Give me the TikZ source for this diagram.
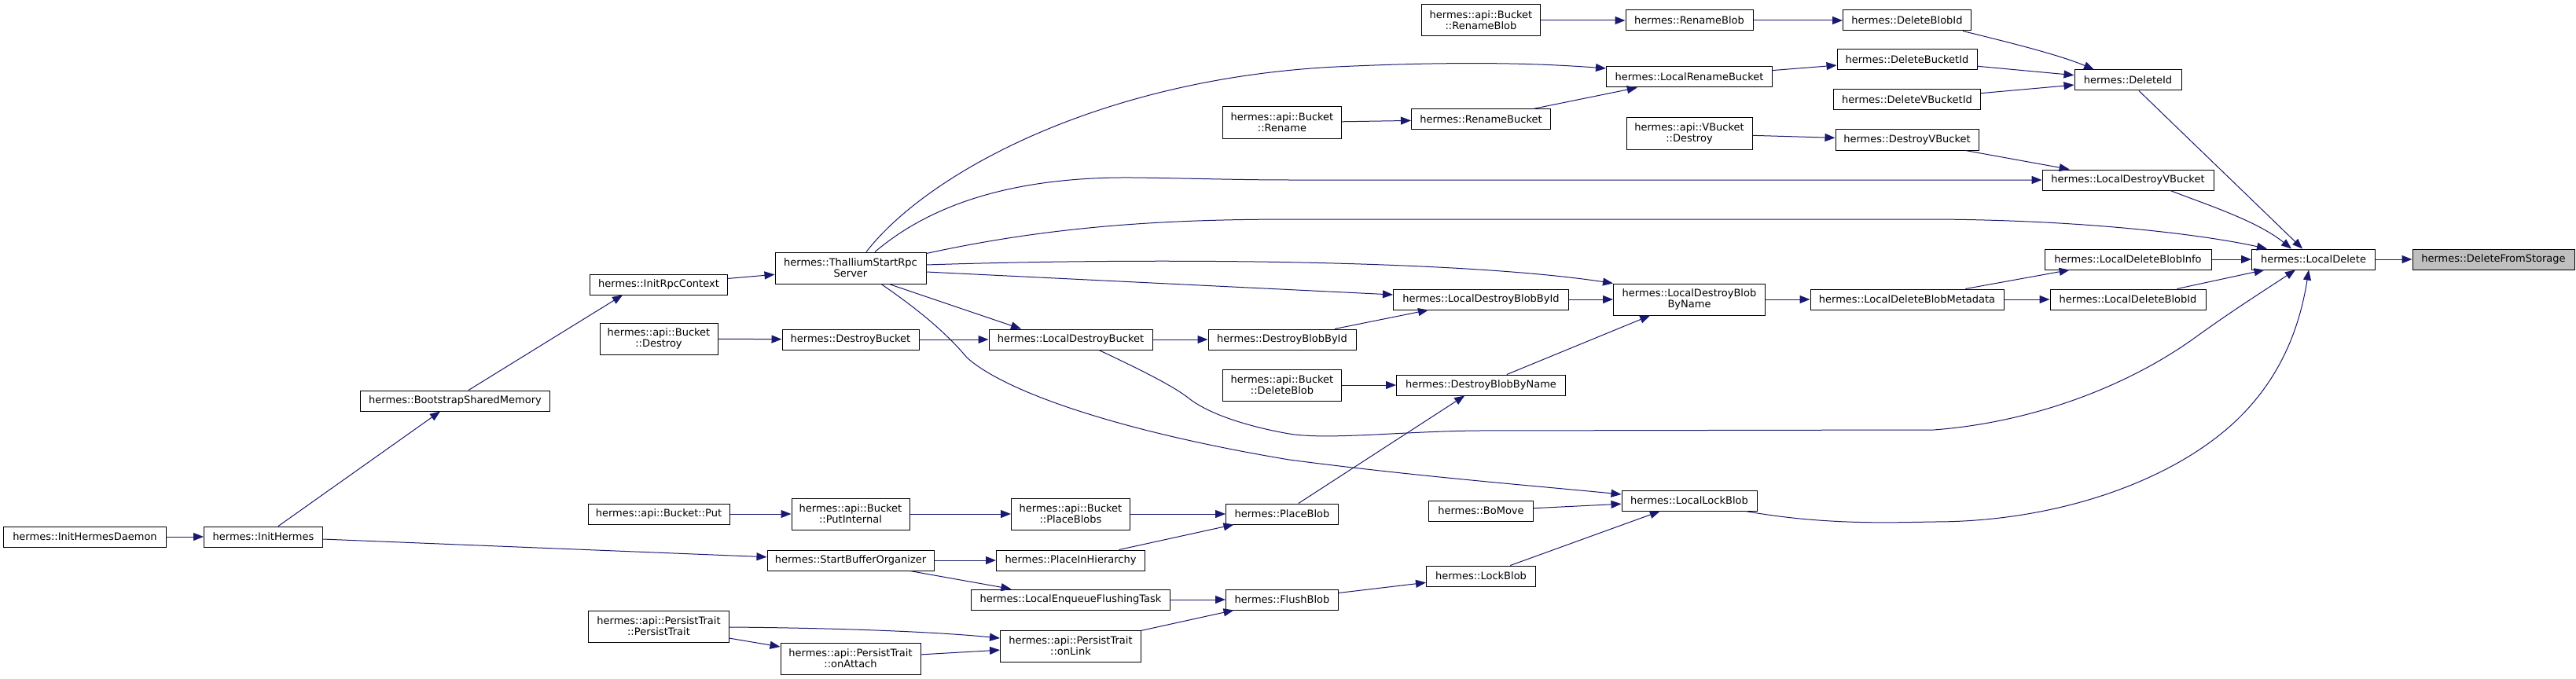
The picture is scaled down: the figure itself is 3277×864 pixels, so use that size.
\documentclass[tikz,border=0pt]{standalone}
\usepackage{fontspec}
\setmainfont{DejaVu Sans}
\usetikzlibrary{arrows.meta,calc}
\definecolor{edgeblue}{HTML}{191970}
\definecolor{hlgray}{HTML}{BFBFBF}
\newcommand\dxbox[6]{\node[box,minimum width=#4pt,minimum height=#5pt] (#1) at (#2,#3) {#6};}
\begin{document}
\begin{tikzpicture}[x=1pt,y=-1pt,
  box/.style={draw=black, fill=white, line width=1pt, inner sep=0pt, align=center, font=\fontsize{13}{14}\selectfont},
  arr/.style={draw=edgeblue, line width=1pt, -{Triangle[length=13pt,width=10pt]}}]
\fill[white] (0,0) rectangle (3277,864);
\useasboundingbox (0,0) rectangle (3277,864);
% nodes
\dxbox{ihd}{108}{683}{207}{26}{hermes::InitHermesDaemon}
\dxbox{ih}{335}{683}{151}{26}{hermes::InitHermes}
\dxbox{bsm}{579}{510}{241}{26}{hermes::BootstrapSharedMemory}
\dxbox{irc}{838}{362}{175}{26}{hermes::InitRpcContext}
\dxbox{bdes}{838}{431}{150}{40}{hermes::api::Bucket\\::Destroy}
\dxbox{bput}{838}{654}{180}{26}{hermes::api::Bucket::Put}
\dxbox{ptpt}{838}{797}{179}{40}{hermes::api::PersistTrait\\::PersistTrait}
\dxbox{thal}{1082}{341}{192}{40}{hermes::ThalliumStartRpc\\Server}
\dxbox{dbk}{1082}{432}{174}{26}{hermes::DestroyBucket}
\dxbox{putint}{1082}{654}{150}{40}{hermes::api::Bucket\\::PutInternal}
\dxbox{sbo}{1082}{713}{212}{26}{hermes::StartBufferOrganizer}
\dxbox{onatt}{1082}{838}{178}{40}{hermes::api::PersistTrait\\::onAttach}
\dxbox{ldbk}{1362}{432}{208}{26}{hermes::LocalDestroyBucket}
\dxbox{plbs}{1362}{654}{151}{40}{hermes::api::Bucket\\::PlaceBlobs}
\dxbox{pih}{1362}{713}{189}{26}{hermes::PlaceInHierarchy}
\dxbox{lenq}{1362}{763}{253}{26}{hermes::LocalEnqueueFlushingTask}
\dxbox{onlink}{1362}{822}{179}{40}{hermes::api::PersistTrait\\::onLink}
\dxbox{bren}{1631}{156}{151}{40}{hermes::api::Bucket\\::Rename}
\dxbox{dbbi}{1631}{432}{188}{26}{hermes::DestroyBlobById}
\dxbox{bdelb}{1631}{490}{151}{40}{hermes::api::Bucket\\::DeleteBlob}
\dxbox{plb}{1631}{654}{143}{26}{hermes::PlaceBlob}
\dxbox{flb}{1631}{763}{143}{26}{hermes::FlushBlob}
\dxbox{brenb}{1884}{26}{151}{40}{hermes::api::Bucket\\::RenameBlob}
\dxbox{renbk}{1884}{152}{177}{26}{hermes::RenameBucket}
\dxbox{ldbbi}{1884}{381}{223}{26}{hermes::LocalDestroyBlobById}
\dxbox{dbbn}{1884}{490}{215}{26}{hermes::DestroyBlobByName}
\dxbox{bomove}{1884}{650}{133}{26}{hermes::BoMove}
\dxbox{lockb}{1884}{733}{139}{26}{hermes::LockBlob}
\dxbox{renbl}{2149}{26}{162}{26}{hermes::RenameBlob}
\dxbox{lrenbk}{2149}{98}{211}{26}{hermes::LocalRenameBucket}
\dxbox{vbdes}{2149}{170}{160}{40}{hermes::api::VBucket\\::Destroy}
\dxbox{ldbbn}{2149}{381}{193}{40}{hermes::LocalDestroyBlob\\ByName}
\dxbox{llockb}{2149}{637}{172}{26}{hermes::LocalLockBlob}
\dxbox{dblid}{2426}{26}{163}{26}{hermes::DeleteBlobId}
\dxbox{dbkid}{2426}{76}{178}{26}{hermes::DeleteBucketId}
\dxbox{dvbkid}{2426}{127}{187}{26}{hermes::DeleteVBucketId}
\dxbox{dvbk}{2426}{178}{182}{26}{hermes::DestroyVBucket}
\dxbox{ldbm}{2426}{381}{246}{26}{hermes::LocalDeleteBlobMetadata}
\dxbox{delid}{2707}{102}{136}{26}{hermes::DeleteId}
\dxbox{ldvbk}{2707}{229}{218}{26}{hermes::LocalDestroyVBucket}
\dxbox{ldbinfo}{2707}{330}{212}{26}{hermes::LocalDeleteBlobInfo}
\dxbox{ldbid}{2707}{381}{198}{26}{hermes::LocalDeleteBlobId}
\dxbox{ldel}{2943}{330}{157}{26}{hermes::LocalDelete}
\node[box,fill=hlgray,minimum width=206pt,minimum height=26pt] (dfs) at (3172,330) {hermes::DeleteFromStorage};
% straight edges
\draw[arr] (ihd) -- (ih);
\draw[arr] (ih) -- (bsm);
\draw[arr] (ih) -- (sbo);
\draw[arr] ($(bsm.north)+(17,0)$) -- ($(irc.south)+(-46,0)$);
\draw[arr] (irc) -- (thal);
\draw[arr] (bdes) -- (dbk);
\draw[arr] (dbk) -- (ldbk);
\draw[arr] ($(thal.south)+(49,0)$) -- ($(ldbk.north)+(-63,0)$);
\draw[arr] (ldbk) -- (dbbi);
\draw[arr] (dbbi) -- (ldbbi);
\draw[arr] (ldbbi) -- (ldbbn);
\draw[arr] (dbbn) -- (ldbbn);
\draw[arr] (bdelb) -- (dbbn);
\draw[arr] (plb) -- (dbbn);
\draw[arr] (ldbbn) -- (ldbm);
\draw[arr] (ldbm) -- (ldbinfo);
\draw[arr] (ldbm) -- (ldbid);
\draw[arr] (ldbinfo) -- (ldel);
\draw[arr] (ldbid) -- (ldel);
\draw[arr] (ldel) -- (dfs);
\draw[arr] (brenb) -- (renbl);
\draw[arr] (renbl) -- (dblid);
\draw[arr] ($(dblid.south)+(71,0)$) .. controls (2560,55) and (2620,70) .. ($(delid.north)+(-43,0)$);
\draw[arr] (dbkid) -- (delid);
\draw[arr] (dvbkid) -- (delid);
\draw[arr] (delid) -- (ldel);
\draw[arr] (bren) -- (renbk);
\draw[arr] (renbk) -- (lrenbk);
\draw[arr] (lrenbk) -- (dbkid);
\draw[arr] (vbdes) -- (dvbk);
\draw[arr] (dvbk) -- (ldvbk);
\draw[arr] ($(ldvbk.south)+(54,0)$) .. controls (2800,258) and (2870,280) .. ($(ldel.north)+(-28,0)$);
\draw[arr] (bput) -- (putint);
\draw[arr] (putint) -- (plbs);
\draw[arr] (plbs) -- (plb);
\draw[arr] (pih) -- (plb);
\draw[arr] (sbo) -- (pih);
\draw[arr] (sbo) -- (lenq);
\draw[arr] (lenq) -- (flb);
\draw[arr] (flb) -- (lockb);
\draw[arr] (lockb) -- (llockb);
\draw[arr] (bomove) -- (llockb);
\draw[arr] ($(ptpt.east)+(0,1)$) .. controls (1050,799) and (1180,803) .. ($(onlink.west)+(0,-10)$);
\draw[arr] (ptpt) -- (onatt);
\draw[arr] (onatt) -- (onlink);
\draw[arr] (onlink) -- (flb);
% curved edges
\draw[arr] ($(thal.north)+(20,0)$) .. controls (1180,220) and (1400,100) .. (1700,85) .. controls (1850,78) and (1950,80) .. ($(lrenbk.west)+(0,-11)$);
\draw[arr] ($(thal.north)+(31,0)$) .. controls (1190,255) and (1300,225) .. (1440,226) .. controls (1520,227) and (1580,229) .. (1640,229) -- (ldvbk.west);
\draw[arr] ($(thal.north east)+(0,2)$) .. controls (1350,285) and (1500,279) .. (1650,279) -- (2460,279) .. controls (2650,280) and (2800,298) .. ($(ldel.north west)+(20,0)$);
\draw[arr] ($(thal.east)+(0,-4)$) .. controls (1450,328) and (1850,330) .. (ldbbn.north west);
\draw[arr] ($(thal.east)+(0,5)$) -- ($(ldbbi.west)+(0,-6)$);
\draw[arr] ($(thal.south)+(39,0)$) .. controls (1170,395) and (1205,425) .. (1230,455) .. controls (1280,500) and (1430,550) .. (1640,585) .. controls (1800,606) and (1950,618) .. ($(llockb.west)+(0,-8)$);
\draw[arr] ($(ldbk.south)+(36,0)$) .. controls (1450,470) and (1490,490) .. (1510,505) .. controls (1540,530) and (1600,545) .. (1640,552) .. controls (1690,560) and (1780,549) .. (1880,548) -- (2460,547) .. controls (2580,538) and (2700,495) .. (2789,432) .. controls (2840,395) and (2880,370) .. ($(ldel.south)+(-23,0)$);
\draw[arr] ($(llockb.south east)+(-15,0)$) .. controls (2320,668) and (2400,665) .. (2460,664) .. controls (2620,664) and (2770,610) .. (2850,530) .. controls (2900,480) and (2925,420) .. ($(ldel.south)+(-6,0)$);
\end{tikzpicture}
\end{document}
